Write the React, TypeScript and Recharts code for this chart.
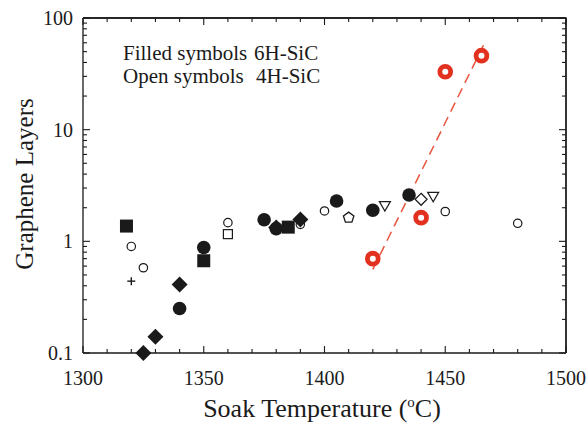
import React from 'react';
import { ScatterChart, Scatter, XAxis, YAxis, ReferenceLine } from 'recharts';

const FONT = '"Liberation Serif", "Times New Roman", serif';
const INK = '#1a1a1a';
const RED = '#e3311f';

// Axis ticks
const xMajor = [1300, 1350, 1400, 1450, 1500];
const xMinor = [1310, 1320, 1330, 1340, 1360, 1370, 1380, 1390, 1410, 1420, 1430, 1440, 1460, 1470, 1480, 1490];
const yMajor = [0.1, 1, 10, 100];
const yMinor = [0.2, 0.3, 0.4, 0.5, 0.6, 0.7, 0.8, 0.9, 2, 3, 4, 5, 6, 7, 8, 9, 20, 30, 40, 50, 60, 70, 80, 90];
const X_MIN = 1300;
const X_MAX = 1500;
const Y_MIN = 0.1;
const Y_MAX = 100;

// Filled symbols: 6H-SiC
const filledSquares = [
  { x: 1318, y: 1.37 },
  { x: 1350, y: 0.67 },
  { x: 1385, y: 1.34 },
];
const filledCircles = [
  { x: 1340, y: 0.25 },
  { x: 1350, y: 0.88 },
  { x: 1375, y: 1.56 },
  { x: 1380, y: 1.3 },
  { x: 1405, y: 2.3 },
  { x: 1420, y: 1.9 },
  { x: 1435, y: 2.6 },
];
const filledDiamonds = [
  { x: 1325, y: 0.1 },
  { x: 1330, y: 0.14 },
  { x: 1340, y: 0.41 },
  { x: 1380, y: 1.33 },
  { x: 1390, y: 1.57 },
];

// Open symbols: 4H-SiC
const openCircles = [
  { x: 1320, y: 0.9 },
  { x: 1325, y: 0.58 },
  { x: 1360, y: 1.47 },
  { x: 1390, y: 1.42 },
  { x: 1400, y: 1.87 },
  { x: 1450, y: 1.85 },
  { x: 1480, y: 1.45 },
];
const openSquares = [{ x: 1360, y: 1.16 }];
const openPentagons = [{ x: 1410, y: 1.63 }];
const openTriangles = [
  { x: 1425, y: 2.07 },
  { x: 1445, y: 2.5 },
];
const openDiamonds = [{ x: 1440, y: 2.38 }];
const plusPoints = [{ x: 1320, y: 0.44 }];

// Red rings and fit line
const redRings = [
  { x: 1420, y: 0.7 },
  { x: 1440, y: 1.63 },
  { x: 1450, y: 33 },
  { x: 1465, y: 46 },
];
const fitLine = [
  { x: 1420, y: 0.56 },
  { x: 1466, y: 58 },
];

// Frame (top and right borders)
const frame = [
  { x: X_MIN, y: Y_MAX },
  { x: X_MAX, y: Y_MAX },
  { x: X_MAX, y: Y_MIN },
];

const FilledCircle = (p: any) => <circle cx={p.cx} cy={p.cy} r={6.8} fill={INK} />;
const FilledSquare = (p: any) => <rect x={p.cx - 6.5} y={p.cy - 6.5} width={13} height={13} fill={INK} />;
const FilledDiamond = (p: any) => (
  <polygon points={`${p.cx},${p.cy - 8} ${p.cx + 8},${p.cy} ${p.cx},${p.cy + 8} ${p.cx - 8},${p.cy}`} fill={INK} />
);
const OpenCircle = (p: any) => <circle cx={p.cx} cy={p.cy} r={4.2} fill="#fff" stroke={INK} strokeWidth={1.2} />;
const OpenSquare = (p: any) => (
  <rect x={p.cx - 4.5} y={p.cy - 4.5} width={9} height={9} fill="#fff" stroke={INK} strokeWidth={1.2} />
);
const OpenPentagon = (p: any) => {
  const pts: string[] = [];
  for (let i = 0; i < 5; i++) {
    const a = -Math.PI / 2 + (i * 2 * Math.PI) / 5;
    pts.push(`${p.cx + 5.5 * Math.cos(a)},${p.cy + 5.5 * Math.sin(a)}`);
  }
  return <polygon points={pts.join(' ')} fill="#fff" stroke={INK} strokeWidth={1.3} />;
};
const OpenTriangle = (p: any) => (
  <polygon points={`${p.cx - 5.5},${p.cy - 4.5} ${p.cx + 5.5},${p.cy - 4.5} ${p.cx},${p.cy + 5}`} fill="#fff" stroke={INK} strokeWidth={1.2} />
);
const OpenDiamond = (p: any) => (
  <polygon points={`${p.cx},${p.cy - 6} ${p.cx + 6},${p.cy} ${p.cx},${p.cy + 6} ${p.cx - 6},${p.cy}`} fill="#fff" stroke={INK} strokeWidth={1.2} />
);
const Plus = (p: any) => (
  <g stroke={INK} strokeWidth={1.4}>
    <line x1={p.cx - 4} x2={p.cx + 4} y1={p.cy} y2={p.cy} />
    <line x1={p.cx} x2={p.cx} y1={p.cy - 4} y2={p.cy + 4} />
  </g>
);
const RedRing = (p: any) => <circle cx={p.cx} cy={p.cy} r={5.4} fill="#fff" stroke={RED} strokeWidth={4.8} />;
const NoShape = () => <g />;

// Inward tick pairs drawn at both ends of a reference line
const VTicks = (len: number) => (p: any) => {
  if (p == null || p.x1 == null || p.y1 == null || p.y2 == null) return <g />;
  const x = p.x1;
  const top = Math.min(p.y1, p.y2);
  const bot = Math.max(p.y1, p.y2);
  return (
    <g stroke={INK} strokeWidth={1.1}>
      <line x1={x} x2={x} y1={top} y2={top + len} />
      <line x1={x} x2={x} y1={bot} y2={bot - len} />
    </g>
  );
};
const HTicks = (len: number) => (p: any) => {
  if (p == null || p.y1 == null || p.x1 == null || p.x2 == null) return <g />;
  const y = p.y1;
  const left = Math.min(p.x1, p.x2);
  const right = Math.max(p.x1, p.x2);
  return (
    <g stroke={INK} strokeWidth={1.1}>
      <line x1={left} x2={left + len} y1={y} y2={y} />
      <line x1={right} x2={right - len} y1={y} y2={y} />
    </g>
  );
};
const VMajor = VTicks(7);
const VMinor = VTicks(4);
const HMajor = HTicks(7);
const HMinor = HTicks(4);

const tickText = { fontFamily: FONT, fontSize: 20, fill: INK } as const;

const BottomLabel = (p: any) => (
  <text x={p.x} y={p.y + 31} textAnchor="middle" {...tickText}>
    {p.payload.value}
  </text>
);
const LeftLabel = (p: any) => (
  <text x={p.x - 9} y={p.y + 7} textAnchor="end" {...tickText}>
    {String(p.payload.value)}
  </text>
);

const axisLine = { stroke: INK, strokeWidth: 1.3 };

export default function App() {
  return (
    <div style={{ position: 'absolute', left: 0, top: 0, width: 587, height: 425, background: '#fff' }}>
      <ScatterChart width={587} height={425} margin={{ top: 18, right: 21, bottom: 0, left: 0 }}>
        <XAxis
          dataKey="x"
          type="number"
          domain={[X_MIN, X_MAX]}
          ticks={xMajor}
          interval={0}
          tickSize={1}
          tickMargin={0}
          tickLine={false}
          tick={BottomLabel}
          axisLine={axisLine}
          height={72}
        />
        <YAxis
          dataKey="y"
          type="number"
          scale="log"
          domain={[Y_MIN, Y_MAX]}
          ticks={yMajor}
          interval={0}
          tickSize={1}
          tickMargin={0}
          tickLine={false}
          tick={LeftLabel}
          axisLine={axisLine}
          width={83}
        />

        <Scatter
          data={fitLine}
          line={{ stroke: '#e8553f', strokeWidth: 1.5, strokeDasharray: '10 6' }}
          shape={NoShape}
          isAnimationActive={false}
        />
        <Scatter data={openCircles} shape={OpenCircle} isAnimationActive={false} />
        <Scatter data={openSquares} shape={OpenSquare} isAnimationActive={false} />
        <Scatter data={openPentagons} shape={OpenPentagon} isAnimationActive={false} />
        <Scatter data={openTriangles} shape={OpenTriangle} isAnimationActive={false} />
        <Scatter data={openDiamonds} shape={OpenDiamond} isAnimationActive={false} />
        <Scatter data={plusPoints} shape={Plus} isAnimationActive={false} />
        <Scatter data={filledSquares} shape={FilledSquare} isAnimationActive={false} />
        <Scatter data={filledCircles} shape={FilledCircle} isAnimationActive={false} />
        <Scatter data={filledDiamonds} shape={FilledDiamond} isAnimationActive={false} />
        <Scatter data={redRings} shape={RedRing} isAnimationActive={false} />

        {/* frame: top and right borders */}
        <Scatter data={frame} line={{ stroke: INK, strokeWidth: 1.3 }} shape={NoShape} isAnimationActive={false} />
        <ReferenceLine y={Y_MAX} stroke={INK} strokeWidth={1.3} ifOverflow="visible" />
        <ReferenceLine x={X_MAX} stroke={INK} strokeWidth={1.3} ifOverflow="visible" />

        {/* inward ticks on all four sides */}
        {xMajor.map((v) => (
          <ReferenceLine key={`xM${v}`} x={v} ifOverflow="visible" shape={VMajor} />
        ))}
        {xMinor.map((v) => (
          <ReferenceLine key={`xm${v}`} x={v} ifOverflow="visible" shape={VMinor} />
        ))}
        {yMajor.map((v) => (
          <ReferenceLine key={`yM${v}`} y={v} ifOverflow="visible" shape={HMajor} />
        ))}
        {yMinor.map((v) => (
          <ReferenceLine key={`ym${v}`} y={v} ifOverflow="visible" shape={HMinor} />
        ))}
      </ScatterChart>

      <div style={{ position: 'absolute', left: 123, top: 42, fontFamily: FONT, fontSize: 21, color: INK, lineHeight: '23px', whiteSpace: 'nowrap' }}>
        <div>Filled symbols</div>
        <div>Open symbols</div>
      </div>
      <div style={{ position: 'absolute', left: 254, top: 42, fontFamily: FONT, fontSize: 21, color: INK, lineHeight: '23px', whiteSpace: 'nowrap' }}>
        <div>6H-SiC</div>
        <div style={{ marginLeft: 2 }}>4H-SiC</div>
      </div>

      <div
        style={{
          position: 'absolute',
          left: 25,
          top: 183.5,
          transform: 'translate(-50%, -50%) rotate(-90deg)',
          fontFamily: FONT,
          fontSize: 25,
          color: INK,
          whiteSpace: 'nowrap',
        }}
      >
        Graphene Layers
      </div>
      <div
        style={{
          position: 'absolute',
          left: 322,
          top: 409,
          transform: 'translate(-50%, -50%)',
          fontFamily: FONT,
          fontSize: 26,
          color: INK,
          whiteSpace: 'nowrap',
        }}
      >
        Soak Temperature (<sup style={{ fontSize: 15 }}>o</sup>C)
      </div>
    </div>
  );
}
